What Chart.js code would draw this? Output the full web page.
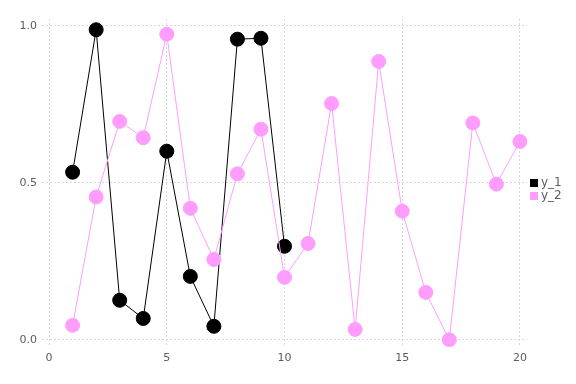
<!DOCTYPE html>
<html>
<head>
<meta charset="utf-8">
<script src="https://cdn.jsdelivr.net/npm/chart.js@4"></script>
<style>
  html, body { margin: 0; padding: 0; background: #fff; }
  #wrap { width: 576px; height: 384px; }
</style>
</head>
<body>
<div id="wrap"><canvas id="chart" width="576" height="384"></canvas></div>
<script>
// data
const x1 = [1, 2, 3, 4, 5, 6, 7, 8, 9, 10];
const y1 = [0.534, 0.988, 0.126, 0.068, 0.601, 0.202, 0.043, 0.958, 0.961, 0.298];

const x2 = [1, 2, 3, 4, 5, 6, 7, 8, 9, 10, 11, 12, 13, 14, 15, 16, 17, 18, 19, 20];
const y2 = [0.046, 0.455, 0.696, 0.644, 0.974, 0.419, 0.256, 0.529, 0.671, 0.199,
            0.307, 0.753, 0.033, 0.887, 0.410, 0.151, 0.000, 0.691, 0.496, 0.632];

const xTicks = [0, 5, 10, 15, 20];
const yTicks = [0, 0.5, 1.0];

const textColor = '#5e5866';
const gridColor = '#d9d6e2';

// small legend drawn in the right margin
const sideLegend = {
  id: 'sideLegend',
  afterDraw(chart) {
    const ctx = chart.ctx;
    ctx.save();
    ctx.font = '12px "DejaVu Sans"';
    ctx.textBaseline = 'middle';
    chart.data.datasets.forEach((ds, i) => {
      const y = 183 + i * 13;
      ctx.fillStyle = ds.backgroundColor;
      ctx.fillRect(530, y - 4, 8, 8);
      ctx.fillStyle = textColor;
      ctx.fillText(ds.label, 541, y);
    });
    ctx.restore();
  }
};

new Chart(document.getElementById('chart'), {
  type: 'line',
  data: {
    datasets: [
      {
        label: 'y_1',
        data: x1.map((x, i) => ({ x, y: y1[i] })),
        borderColor: '#000000',
        backgroundColor: '#000000',
        borderWidth: 1,
        pointRadius: 7,
        pointBorderWidth: 1,
        order: 1
      },
      {
        label: 'y_2',
        data: x2.map((x, i) => ({ x, y: y2[i] })),
        borderColor: '#ff9dff',
        backgroundColor: '#ff9dff',
        borderWidth: 1,
        pointRadius: 7,
        pointBorderWidth: 1,
        order: 0
      }
    ]
  },
  options: {
    responsive: false,
    animation: false,
    layout: { padding: { top: 19, right: 49, bottom: 14, left: 0 } },
    plugins: {
      legend: { display: false },
      tooltip: { enabled: false }
    },
    scales: {
      x: {
        type: 'linear',
        min: -0.3,
        max: 20.3,
        afterBuildTicks: axis => { axis.ticks = xTicks.map(v => ({ value: v })); },
        grid: { color: gridColor, drawTicks: false },
        border: { display: false, dash: [2, 2] },
        ticks: {
          color: textColor,
          font: { family: 'DejaVu Sans', size: 11 },
          padding: 5,
          maxRotation: 0,
          callback: v => String(v)
        }
      },
      y: {
        min: -0.0223,
        max: 1.0223,
        afterBuildTicks: axis => { axis.ticks = yTicks.map(v => ({ value: v })); },
        afterFit: axis => { axis.width = 42; },
        grid: { color: gridColor, drawTicks: false },
        border: { display: false, dash: [2, 2] },
        ticks: {
          color: textColor,
          font: { family: 'DejaVu Sans', size: 11 },
          padding: 5,
          callback: v => v.toFixed(1)
        }
      }
    }
  },
  plugins: [sideLegend]
});
</script>
</body>
</html>
